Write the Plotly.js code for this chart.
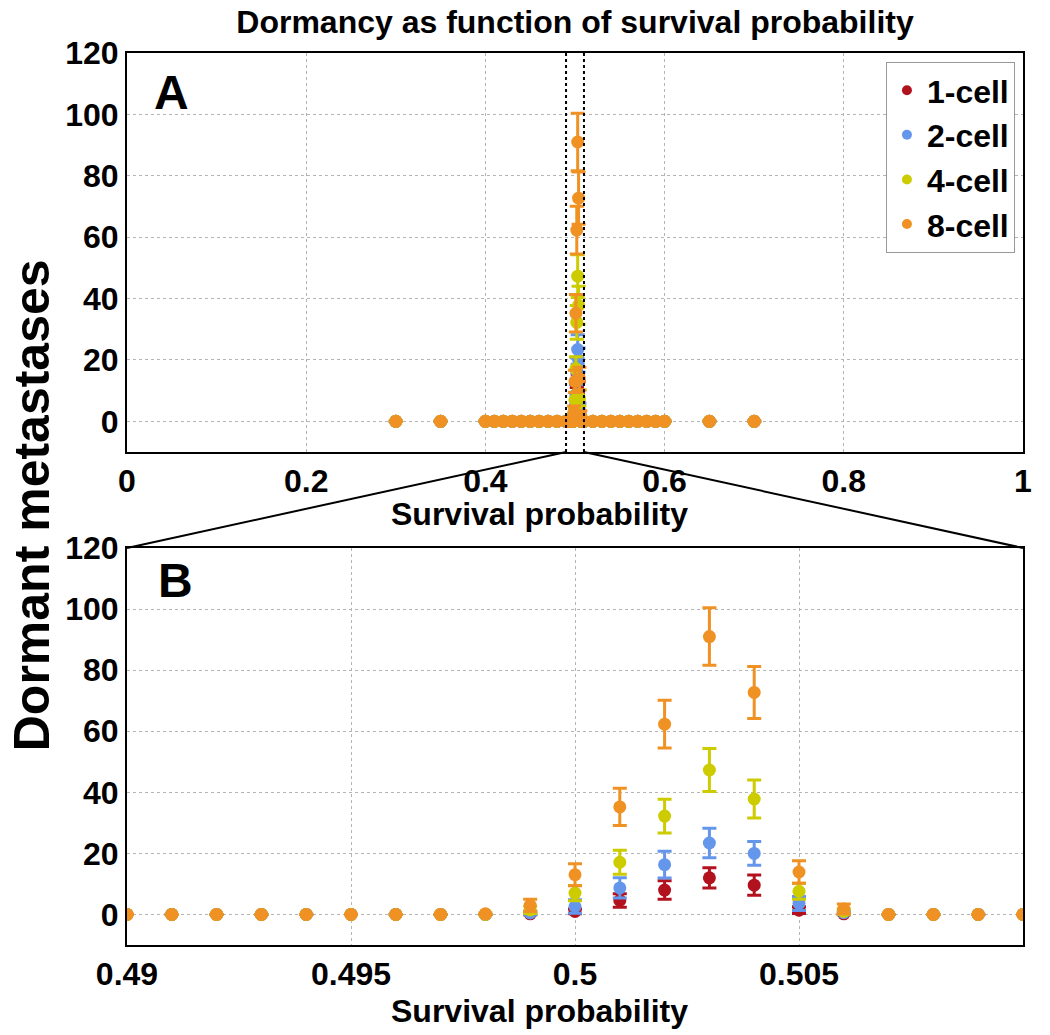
<!DOCTYPE html>
<html>
<head>
<meta charset="utf-8">
<script src="https://cdn.plot.ly/plotly-3.0.1.min.js"></script>
<style>
  html, body { margin: 0; padding: 0; background: #fff; }
  #chart { width: 1050px; height: 1035px; }
</style>
</head>
<body>
<div id="chart"></div>
<script>
// series names and colours
var cellLabels = ['1-cell', '2-cell', '4-cell', '8-cell'];
var cellColors = ['rgb(178,18,30)', 'rgb(100,150,236)', 'rgb(204,204,0)', 'rgb(240,145,35)'];

// window shown in panel B
var zoomRange = [0.49, 0.51];

// coarse survival probabilities (panel A only): no dormancy there
var coarseX = [0.3, 0.35, 0.4, 0.41, 0.42, 0.43, 0.44, 0.45, 0.46, 0.47, 0.48,
               0.52, 0.53, 0.54, 0.55, 0.56, 0.57, 0.58, 0.59, 0.6, 0.65, 0.7];
var coarseDormant = [0, 0, 0, 0, 0, 0, 0, 0, 0, 0, 0, 0, 0, 0, 0, 0, 0, 0, 0, 0, 0, 0];
var coarseErr     = [0, 0, 0, 0, 0, 0, 0, 0, 0, 0, 0, 0, 0, 0, 0, 0, 0, 0, 0, 0, 0, 0];

// fine survival probabilities around 0.5
var fineX = [0.490, 0.491, 0.492, 0.493, 0.494, 0.495, 0.496, 0.497, 0.498, 0.499, 0.500,
             0.501, 0.502, 0.503, 0.504, 0.505, 0.506, 0.507, 0.508, 0.509, 0.510];

var dormant1 = [0, 0, 0, 0, 0, 0, 0, 0, 0, 0.2, 1.0, 4.6, 8.0, 12.0, 9.6, 1.4, 0.2, 0, 0, 0, 0];
var err1     = [0, 0, 0, 0, 0, 0, 0, 0, 0, 0.3, 0.8, 2.2, 3.0, 3.3, 3.3, 1.1, 0.3, 0, 0, 0, 0];
var dormant2 = [0, 0, 0, 0, 0, 0, 0, 0, 0, 0.5, 2.6, 8.7, 16.3, 23.4, 20.0, 3.6, 0.6, 0, 0, 0, 0];
var err2     = [0, 0, 0, 0, 0, 0, 0, 0, 0, 0.6, 2.2, 3.3, 4.4, 4.8, 3.9, 2.3, 0.6, 0, 0, 0, 0];
var dormant4 = [0, 0, 0, 0, 0, 0, 0, 0, 0, 1.5, 7.0, 17.1, 32.2, 47.3, 37.8, 7.6, 1.0, 0, 0, 0, 0];
var err4     = [0, 0, 0, 0, 0, 0, 0, 0, 0, 1.2, 2.5, 3.9, 5.5, 7.0, 6.2, 2.6, 0.9, 0, 0, 0, 0];
var dormant8 = [0, 0, 0, 0, 0, 0, 0, 0, 0.2, 3.0, 13.0, 35.2, 62.3, 91.0, 72.7, 13.9, 1.8, 0, 0, 0, 0];
var err8     = [0, 0, 0, 0, 0, 0, 0, 0, 0.3, 2.0, 3.6, 6.1, 7.8, 9.4, 8.5, 3.7, 1.6, 0, 0, 0, 0];

var dormantAll = [dormant1, dormant2, dormant4, dormant8];
var errAll = [err1, err2, err4, err8];

var FONT = 'Liberation Sans, Arial, Helvetica, sans-serif';
var domA = [0.5527, 1];
var domB = [0, 0.4451];

var data = [];
for (var i = 0; i < cellLabels.length; i++) {
  var errStyle = {
    type: 'data', visible: true, color: cellColors[i], thickness: 3, width: 7
  };
  // panel A: whole range
  data.push({
    x: coarseX.concat(fineX),
    y: coarseDormant.concat(dormantAll[i]),
    error_y: Object.assign({array: coarseErr.concat(errAll[i])}, errStyle),
    mode: 'markers', type: 'scatter', cliponaxis: true,
    marker: {color: cellColors[i], size: 13},
    xaxis: 'x', yaxis: 'y',
    showlegend: false, hoverinfo: 'x+y'
  });
  // panel B: zoomed window
  data.push({
    x: fineX,
    y: dormantAll[i],
    error_y: Object.assign({array: errAll[i]}, errStyle),
    mode: 'markers', type: 'scatter', cliponaxis: true,
    marker: {color: cellColors[i], size: 13},
    xaxis: 'x2', yaxis: 'y2',
    showlegend: false, hoverinfo: 'x+y'
  });
}
// legend entries (small dots, like the original)
for (var j = 0; j < cellLabels.length; j++) {
  data.push({
    x: [null], y: [null], mode: 'markers', type: 'scatter',
    name: cellLabels[j],
    marker: {color: cellColors[j], size: 10},
    xaxis: 'x', yaxis: 'y'
  });
}

var tickFont = {family: FONT, size: 32, color: '#000', weight: 'bold'};
var labelFont = {family: FONT, size: 32, color: '#000', weight: 'bold'};
function xAxis(range, dtick, anchor) {
  return {
    range: range, dtick: dtick, anchor: anchor, domain: [0, 1],
    showgrid: true, gridcolor: '#b4b4b4', griddash: 'dot', gridwidth: 1,
    showline: true, linecolor: '#000', linewidth: 2, mirror: true,
    zeroline: false, ticks: '',
    tickfont: tickFont
  };
}
function yAxis(domain, anchor) {
  return {
    range: [-10, 120], dtick: 20, domain: domain, anchor: anchor,
    showgrid: true, gridcolor: '#b4b4b4', griddash: 'dot', gridwidth: 1,
    showline: true, linecolor: '#000', linewidth: 2, mirror: true,
    zeroline: false, ticks: '',
    tickfont: tickFont
  };
}

var layout = {
  width: 1050, height: 1035,
  margin: {l: 127, r: 27, t: 53, b: 90},
  paper_bgcolor: '#fff', plot_bgcolor: '#fff',
  font: {family: FONT, color: '#000'},
  title: {
    text: 'Dormancy as function of survival probability',
    font: {family: FONT, size: 32, color: '#000', weight: 'bold'},
    x: 0.5, xref: 'paper', y: 0.979, yref: 'container', yanchor: 'middle'
  },
  xaxis: xAxis([0, 1], 0.2, 'y'),
  yaxis: yAxis(domA, 'x'),
  xaxis2: xAxis(zoomRange, 0.005, 'y2'),
  yaxis2: yAxis(domB, 'x2'),
  showlegend: true,
  legend: {
    x: 0.991, xanchor: 'right', y: 0.99, yanchor: 'top',
    bgcolor: '#fff', bordercolor: '#999', borderwidth: 1,
    font: {family: FONT, size: 32, color: '#000', weight: 'bold'}
  },
  shapes: [
    {type: 'line', xref: 'x', yref: 'y domain', x0: zoomRange[0], x1: zoomRange[0], y0: 0, y1: 1,
     line: {color: '#000', width: 2, dash: 'dot'}},
    {type: 'line', xref: 'x', yref: 'y domain', x0: zoomRange[1], x1: zoomRange[1], y0: 0, y1: 1,
     line: {color: '#000', width: 2, dash: 'dot'}},
    {type: 'line', xref: 'paper', yref: 'paper', x0: zoomRange[0], y0: domA[0], x1: 0, y1: domB[1],
     line: {color: '#000', width: 2}},
    {type: 'line', xref: 'paper', yref: 'paper', x0: zoomRange[1], y0: domA[0], x1: 1, y1: domB[1],
     line: {color: '#000', width: 2}}
  ],
  annotations: [
    {text: 'A', xref: 'x domain', yref: 'y domain', x: 0.05, y: 0.9,
     xanchor: 'center', yanchor: 'middle', showarrow: false,
     font: {family: FONT, size: 48, color: '#000', weight: 'bold'}},
    {text: 'B', xref: 'x2 domain', yref: 'y2 domain', x: 0.054, y: 0.917,
     xanchor: 'center', yanchor: 'middle', showarrow: false,
     font: {family: FONT, size: 48, color: '#000', weight: 'bold'}},
    {text: 'Survival probability', xref: 'paper', yref: 'paper', x: 0.46, y: 0.4835,
     xanchor: 'center', yanchor: 'middle', showarrow: false, font: labelFont},
    {text: 'Survival probability', xref: 'paper', yref: 'paper', x: 0.46, y: -0.0745,
     xanchor: 'center', yanchor: 'middle', showarrow: false, font: labelFont},
    {text: 'Dormant metastases', xref: 'paper', yref: 'paper', x: -0.106, y: 0.493,
     textangle: -90, xanchor: 'center', yanchor: 'middle', showarrow: false,
     font: {family: FONT, size: 50, color: '#000', weight: 'bold'}}
  ]
};

Plotly.newPlot('chart', data, layout, {displayModeBar: false, staticPlot: true});
</script>
</body>
</html>
